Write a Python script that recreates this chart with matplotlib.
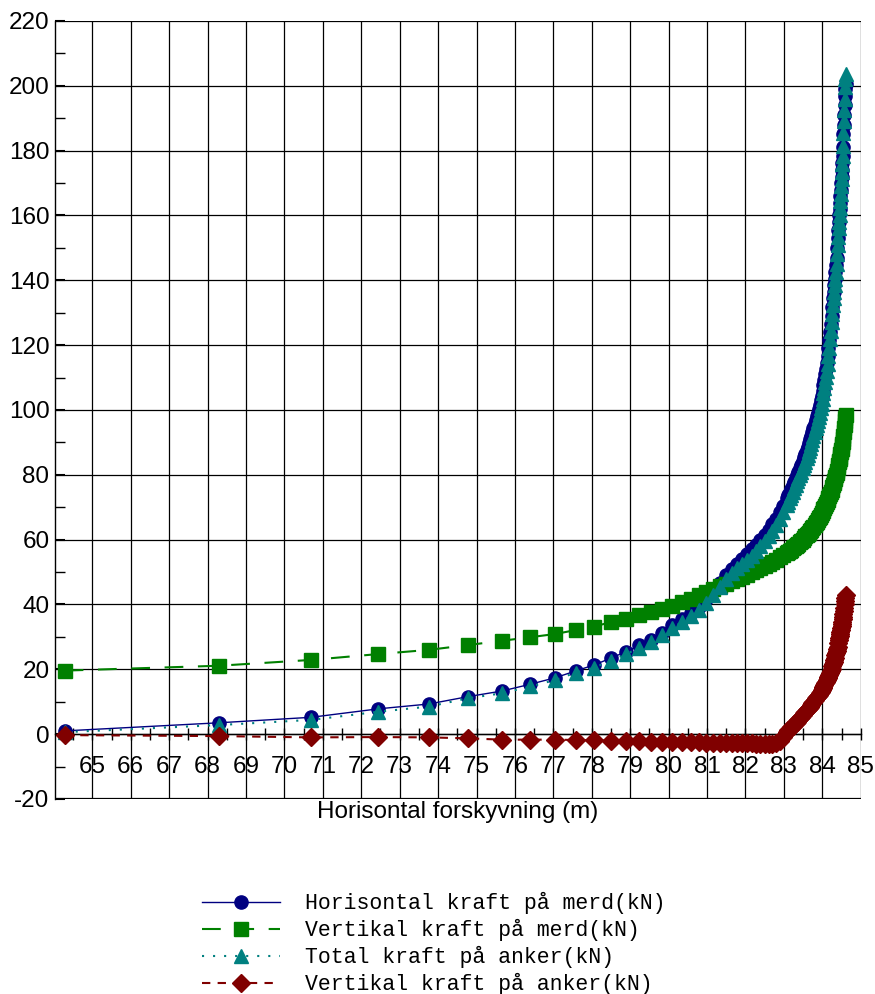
import numpy as np
import matplotlib
matplotlib.use("Agg")
import matplotlib.pyplot as plt
from matplotlib.ticker import MultipleLocator

# horizontal displacement (m), shared by all four series
forskyvning = [
    64.28, 68.29, 70.70, 72.44, 73.76, 74.79, 75.66, 76.40, 77.05, 77.58,
    78.05, 78.49, 78.88, 79.23, 79.53, 79.82, 80.10, 80.35, 80.58, 80.79,
    80.98, 81.16, 81.33, 81.49, 81.64, 81.78, 81.91, 82.04, 82.16, 82.28,
    82.39, 82.50, 82.60, 82.70, 82.80, 82.89, 82.98,
    83.07, 83.11, 83.15, 83.19, 83.23, 83.27, 83.31, 83.345, 83.38, 83.415,
    83.45, 83.485, 83.52, 83.555, 83.59, 83.62, 83.65, 83.68, 83.71, 83.74,
    83.77, 83.80, 83.83, 83.855, 83.88, 83.905, 83.93, 83.955, 83.98, 84.005,
    84.03, 84.055, 84.08, 84.10, 84.12, 84.14, 84.16, 84.18, 84.20, 84.22,
    84.24, 84.26, 84.28, 84.295, 84.31, 84.325, 84.34, 84.355, 84.37, 84.385,
    84.40, 84.415, 84.43, 84.44, 84.45, 84.46, 84.47, 84.48, 84.49, 84.50,
    84.51, 84.52, 84.53, 84.54, 84.55, 84.56, 84.57, 84.58, 84.59, 84.60,
    84.61,
]

# forces (kN)
horisontal_merd = [
    1.0, 3.5, 5.2, 7.8, 9.3, 11.6, 13.3, 15.4, 17.4, 19.5,
    21.3, 23.4, 25.4, 27.4, 29.1, 31.3, 33.6, 35.4, 37.3, 39.2,
    41.8, 44.2, 46.5, 49.1, 51.0, 52.6, 54.0, 55.5, 57.0, 58.5,
    59.9, 61.5, 63.0, 64.7, 66.5, 68.5, 70.5,
    72.7, 73.7, 74.7, 75.7, 76.8, 77.9, 79.0, 80.0, 81.0, 82.0,
    83.1, 84.2, 85.4, 86.5, 87.6, 88.7, 89.8, 90.9, 92.0, 93.2,
    94.4, 95.6, 96.8, 98.0, 99.1, 100.3, 101.6, 103.0, 104.4, 106.0,
    107.6, 109.3, 111.0, 112.7, 114.5, 116.7, 119.0, 121.5, 124.0, 126.5,
    129.0, 131.7, 134.5, 136.5, 138.5, 140.5, 142.5, 144.7, 147.0, 150.0,
    153.0, 155.5, 158.0, 160.0, 162.0, 164.0, 166.0, 168.0, 170.0, 172.0,
    174.0, 176.2, 178.5, 181.0, 185.0, 188.0, 191.0, 194.0, 197.0, 199.0,
    200.5,
]

vertikal_merd = [
    19.6, 21.1, 22.9, 24.7, 26.0, 27.5, 28.8, 29.9, 30.9, 32.1,
    33.2, 34.5, 35.6, 36.6, 37.6, 38.6, 39.6, 40.7, 41.8, 42.8,
    43.9, 44.8, 45.6, 46.4, 47.2, 47.9, 48.5, 49.2, 50.0, 50.6,
    51.2, 51.8, 52.4, 53.1, 53.8, 54.5, 55.2,
    55.9, 56.2, 56.6, 56.9, 57.3, 57.7, 58.1, 58.4, 58.8, 59.2,
    59.6, 60.0, 60.5, 61.0, 61.4, 61.8, 62.2, 62.6, 63.1, 63.5,
    64.0, 64.5, 65.0, 65.5, 66.1, 66.6, 67.1, 67.6, 68.1, 68.7,
    69.3, 69.9, 70.5, 71.0, 71.6, 72.2, 72.8, 73.4, 74.0, 74.7,
    75.4, 76.1, 76.8, 77.4, 78.0, 78.6, 79.3, 79.9, 80.6, 81.3,
    82.0, 82.9, 83.8, 84.4, 85.0, 85.6, 86.3, 86.9, 87.5, 88.1,
    88.8, 89.5, 90.2, 91.0, 92.0, 93.2, 94.3, 95.5, 96.5, 97.5,
    98.5,
]

total_anker = [
    0.6, 2.8, 4.4, 6.9, 8.5, 11.1, 12.6, 14.7, 16.7, 19.0,
    20.5, 22.6, 24.6, 26.6, 28.3, 30.5, 32.8, 34.6, 36.5, 38.4,
    40.6, 43.0, 45.3, 47.9, 49.8, 51.2, 52.4, 53.7, 55.0, 56.5,
    57.9, 59.5, 61.0, 62.7, 64.5, 66.5, 68.5,
    70.7, 71.7, 72.7, 73.7, 74.8, 75.9, 77.0, 78.0, 79.0, 80.0,
    81.0, 82.0, 83.1, 84.1, 85.2, 86.2, 87.3, 88.4, 89.5, 90.7,
    91.9, 93.1, 94.3, 95.5, 96.6, 97.8, 99.1, 100.5, 101.9, 103.5,
    105.1, 106.8, 108.5, 110.2, 112.0, 114.2, 116.5, 119.2, 122.0, 124.5,
    127.0, 129.7, 132.5, 134.5, 136.5, 138.5, 140.5, 142.7, 145.0, 148.0,
    151.0, 153.5, 156.0, 158.0, 160.0, 162.2, 164.5, 166.7, 169.0, 171.2,
    173.5, 176.0, 178.5, 181.5, 185.5, 189.0, 192.5, 196.0, 199.5, 202.0,
    203.5,
]

vertikal_anker = [
    -0.3, -0.6, -1.0, -0.9, -1.0, -1.3, -1.7, -1.7, -1.7, -1.8,
    -1.9, -2.0, -2.1, -2.2, -2.3, -2.3, -2.4, -2.4, -2.5, -2.5,
    -2.6, -2.6, -2.7, -2.7, -2.7, -2.8, -2.8, -2.8, -2.8, -2.9,
    -2.9, -2.9, -2.9, -2.9, -2.8, -2.1, -1.0,
    0.8, 1.2, 1.6, 2.1, 2.6, 3.0, 3.5, 3.9, 4.4, 4.9,
    5.4, 5.9, 6.4, 6.8, 7.3, 7.7, 8.1, 8.5, 9.0, 9.5,
    10.0, 10.5, 11.0, 11.4, 11.8, 12.2, 12.7, 13.1, 13.6, 14.1,
    14.6, 15.1, 15.7, 16.2, 16.7, 17.2, 17.7, 18.2, 18.8, 19.5,
    20.2, 20.9, 21.7, 22.3, 23.0, 23.6, 24.3, 25.0, 25.7, 26.3,
    27.0, 28.0, 29.0, 29.6, 30.2, 30.8, 31.5, 32.1, 32.8, 33.4,
    34.0, 34.7, 35.4, 36.2, 37.0, 38.0, 39.0, 40.0, 41.0, 42.0,
    43.0,
]

for serie in (horisontal_merd, vertikal_merd, total_anker, vertikal_anker):
    if len(serie) != len(forskyvning):
        raise ValueError(f'length mismatch: {len(serie)} vs {len(forskyvning)}')

x_ticks = list(range(65, 86))
y_ticks = list(range(-20, 221, 20))

plt.rcParams['font.family'] = ['Liberation Sans', 'DejaVu Sans']
plt.rcParams['axes.unicode_minus'] = False

fig = plt.figure(figsize=(8.75, 9.94), dpi=100)
ax = fig.add_axes([0.0629, 0.1962, 0.9208, 0.7827])

ax.plot(forskyvning, horisontal_merd, color='#000080', lw=1.0, marker='o',
        ms=9.5, mec='#000080', label='Horisontal kraft på merd(kN)', zorder=3)
ax.plot(forskyvning, vertikal_merd, color='#008000', lw=1.5, ls=(0, (9, 7)),
        marker='s', ms=9.5, mec='#008000', label='Vertikal kraft på merd(kN)', zorder=3)
ax.plot(forskyvning, total_anker, color='#008080', lw=1.5, ls=(0, (1, 4.3)),
        marker='^', ms=9.5, mec='#008080', label='Total kraft på anker(kN)', zorder=3)
ax.plot(forskyvning, vertikal_anker, color='#800000', lw=1.5, ls=(0, (4, 3.5)),
        marker='D', ms=9.0, mec='#800000', label='Vertikal kraft på anker(kN)', zorder=3)

ax.set_xlim(64.03, 85.0)
ax.set_ylim(-20, 220)
ax.set_xticks(x_ticks)
ax.set_yticks(y_ticks)
ax.xaxis.set_minor_locator(MultipleLocator(0.5))
ax.yaxis.set_minor_locator(MultipleLocator(10))
ax.grid(True, which='major', color='black', lw=0.9, zorder=0)

# x axis sits on y = 0, frame closed by grid lines
ax.spines['bottom'].set_position(('data', 0))
ax.spines['top'].set_visible(False)
ax.spines['right'].set_visible(False)
ax.spines['bottom'].set_linewidth(1.0)
ax.spines['left'].set_linewidth(1.0)
ax.axhline(-20, color='black', lw=1.6, zorder=1)

ax.tick_params(axis='x', which='major', direction='inout', length=8, width=1,
               labelsize=17.5, pad=12)
ax.tick_params(axis='x', which='minor', direction='inout', length=8, width=1)
ax.tick_params(axis='y', which='major', direction='in', length=7, width=1.5,
               labelsize=17.5, pad=4)
ax.tick_params(axis='y', which='minor', direction='in', length=7, width=1)

ax.set_xlabel('Horisontal forskyvning (m)', fontsize=17.5)
ax.xaxis.set_label_coords(0.5, -0.003)

fig.legend(loc='upper left', bbox_to_anchor=(0.2309, 0.1026), frameon=False,
           prop={'family': 'Liberation Mono', 'size': 15.5}, handlelength=3.6,
           handletextpad=1.2, labelspacing=0.23, borderpad=0, borderaxespad=0,
           numpoints=1)

fig.savefig('out.png', dpi=100)
